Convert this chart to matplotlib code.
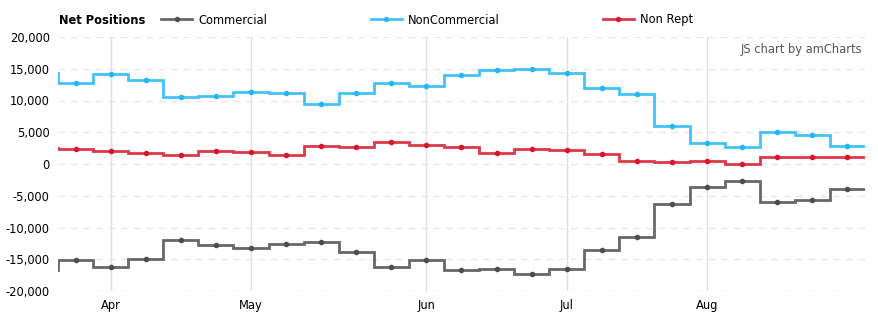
import numpy as np
import pandas as pd
import matplotlib
matplotlib.use("Agg")
import matplotlib.pyplot as plt
from matplotlib.lines import Line2D

# weekly report dates (first one is just before the visible range)
dates = pd.date_range("2016-03-22", "2016-08-30", freq="7D")

commercial = [-16700, -15100, -16200, -14900, -11900, -12700, -13200, -12550,
              -12250, -13800, -16200, -15100, -16650, -16500, -17300, -16500,
              -13500, -11550, -6250, -3570, -2630, -5930, -5620, -3890]
noncommercial = [14300, 12800, 14220, 13280, 10600, 10760, 11390, 11180,
                 9500, 11180, 12800, 12330, 14070, 14860, 15020, 14390,
                 12020, 11080, 6030, 3250, 2720, 5090, 4620, 2880]
nonrept = [2570, 2410, 2100, 1780, 1465, 2100, 1940, 1465,
           2880, 2720, 3510, 3040, 2720, 1780, 2410, 2250,
           1620, 520, 360, 520, 50, 1150, 1150, 1150]

series = [("Commercial", commercial, "#4d4d4d"),
          ("NonCommercial", noncommercial, "#23b7f7"),
          ("Non Rept", nonrept, "#d9152a")]

yticks = [-20000, -15000, -10000, -5000, 0, 5000, 10000, 15000, 20000]

plt.rcParams['font.family'] = ['DejaVu Sans']
fs = 8.3

fig = plt.figure(figsize=(8.79, 3.25), dpi=100)
ax = fig.add_axes([58 / 879, 34 / 325, 807 / 879, 254 / 325])

x = np.arange(len(dates))
edges = np.append(x - 0.5, x[-1] + 0.5)

handles = []
for name, vals, color in series:
    ax.stairs(vals, edges, baseline=None, color=color, lw=2, alpha=0.85, zorder=3)
    ax.plot(x, vals, ls="none", marker="o", ms=3, color=color, zorder=4)
    handles.append(Line2D([], [], color=color, lw=2, alpha=0.85,
                          marker="o", ms=3, markerfacecolor=color, label=name))

ax.set_xlim(0.5, len(dates) - 0.5)
ax.set_ylim(-20000, 20000)

# month ticks at the first report of each month
month_pos, month_lab = [], []
for i, d in enumerate(dates):
    if i > 0 and d.month != dates[i - 1].month:
        month_pos.append(i)
        month_lab.append(d.strftime("%b"))
ax.set_xticks(month_pos)
ax.set_xticklabels(month_lab, fontsize=fs)
ax.set_yticks(yticks)
ax.set_yticklabels([f"{v:,}" for v in yticks], fontsize=fs)
ax.tick_params(length=0, pad=6)

for v in yticks:
    ax.axhline(v, color="#e8e8e8", lw=1, ls=(0, (5, 4)), zorder=1)
for p in month_pos:
    ax.axvline(p, color="#e0e0e0", lw=1, zorder=1)

for s in ax.spines.values():
    s.set_visible(False)

fig.text(59 / 879, 1 - 20 / 325, "Net Positions", fontsize=fs, fontweight="bold",
         va="center", ha="left")
fig.legend(handles=handles, loc="center left", bbox_to_anchor=(161 / 879, 1 - 20 / 325),
           ncol=3, frameon=False, fontsize=fs, borderpad=0, borderaxespad=0,
           handlelength=2.7, handletextpad=0.5, columnspacing=9.0)

fig.text(862 / 879, 1 - 50 / 325, "JS chart by amCharts", fontsize=fs,
         color="#555555", ha="right", va="center")

fig.savefig("out.png", dpi=100)
